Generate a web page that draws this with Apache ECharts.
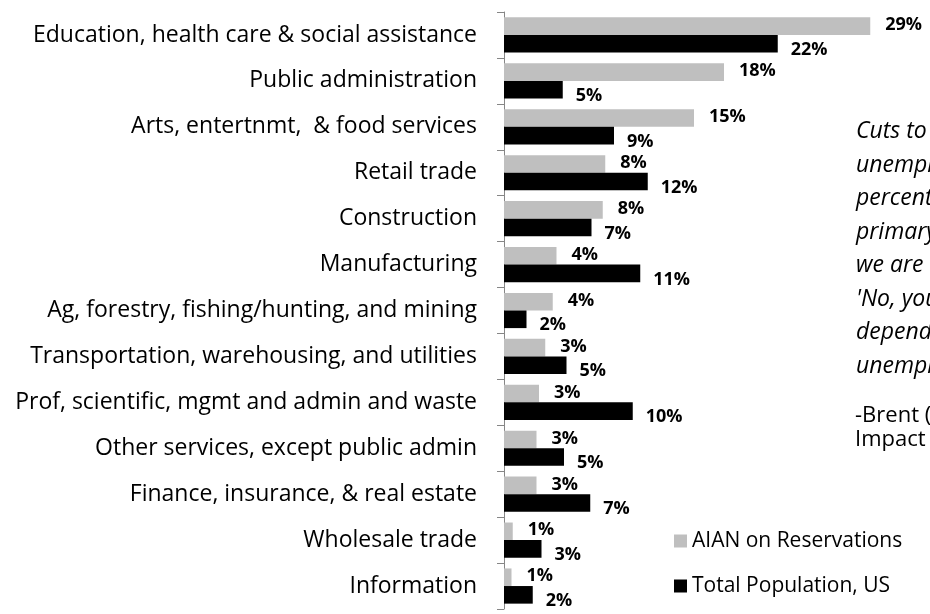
<!DOCTYPE html>
<html>
<head>
<meta charset="utf-8">
<script src="https://cdn.jsdelivr.net/npm/echarts@6/dist/echarts.min.js"></script>
<style>
html,body{margin:0;padding:0;background:#fff;}
#chart{width:930px;height:614px;}
</style>
</head>
<body>
<div id="chart"></div>
<script>
const categories = [
  "Education, health care & social assistance",
  "Public administration",
  "Arts, entertnmt,  & food services",
  "Retail trade",
  "Construction",
  "Manufacturing",
  "Ag, forestry, fishing/hunting, and mining",
  "Transportation, warehousing, and utilities",
  "Prof, scientific, mgmt and admin and waste",
  "Other services, except public admin",
  "Finance, insurance, & real estate",
  "Wholesale trade",
  "Information"
];
const seriesNames = ["AIAN on Reservations", "Total Population, US"];
const aianValues  = [29.3, 17.6, 15.2, 8.1, 7.9, 4.2, 3.9, 3.3, 2.8, 2.6, 2.6, 0.7, 0.6];
const totalValues = [21.9, 4.7, 8.8, 11.5, 7.0, 10.9, 1.8, 5.0, 10.3, 4.8, 6.9, 3.0, 2.3];
const quoteLines = ["Cuts to the", "unemployment", "percentage", "primary", "we are", "'No, you", "dependency", "unemployment"];
const creditLines = ["-Brent (Cladoosby)", "Impact"];

const FONT = "'Open Sans', 'Noto Sans', sans-serif";
const chart = echarts.init(document.getElementById('chart'), null, {renderer: 'canvas'});

const graphics = [];
quoteLines.forEach((t, i) => {
  graphics.push({
    type: 'text', x: 856, y: 131.5 + i * 33.5,
    style: {text: t, font: 'italic 23px ' + FONT, fill: '#000', verticalAlign: 'middle', align: 'left'}
  });
});
creditLines.forEach((t, i) => {
  graphics.push({
    type: 'text', x: 855, y: 416 + i * 24,
    style: {text: t, font: '22px ' + FONT, fill: '#000', verticalAlign: 'middle', align: 'left'}
  });
});

const fmt = p => Math.round(p.value) + '%';

chart.setOption({
  animation: false,
  backgroundColor: '#fff',
  grid: {left: 504, top: 12, width: 375, height: 597, containLabel: false},
  xAxis: {
    type: 'value', min: 0, max: 30, show: false
  },
  yAxis: {
    type: 'category', inverse: true, data: categories,
    axisLine: {show: true, lineStyle: {color: '#868686', width: 1}},
    axisTick: {show: true, length: 7, inside: false, alignWithLabel: false, lineStyle: {color: '#868686'}},
    axisLabel: {margin: 27, color: '#000', fontSize: 23, fontFamily: FONT},
    splitLine: {show: false}
  },
  legend: {
    orient: 'vertical', left: 674, top: 530, padding: 0,
    itemWidth: 13, itemHeight: 13, itemGap: 23, icon: 'rect',
    textStyle: {fontSize: 21, fontFamily: FONT, color: '#000', lineHeight: 22},
    data: seriesNames
  },
  series: [
    {
      name: seriesNames[0], type: 'bar', data: aianValues,
      barWidth: 17.6, barGap: '0%',
      itemStyle: {color: '#BFBFBF'},
      label: {show: true, position: 'right', distance: 15, offset: [0, -1],
        formatter: fmt, color: '#000', fontWeight: 'bold', fontSize: 18, fontFamily: FONT}
    },
    {
      name: seriesNames[1], type: 'bar', data: totalValues,
      barWidth: 17.6, barGap: '0%',
      itemStyle: {color: '#000'},
      label: {show: true, position: 'right', distance: 13, offset: [0, 6],
        formatter: fmt, color: '#000', fontWeight: 'bold', fontSize: 18, fontFamily: FONT}
    }
  ],
  graphic: graphics
});
</script>
</body>
</html>
